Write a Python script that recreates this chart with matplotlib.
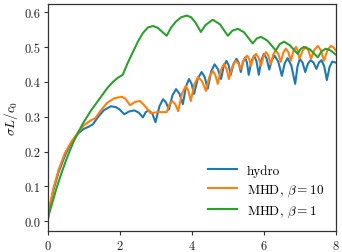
import matplotlib
matplotlib.use("Agg")
import matplotlib.pyplot as plt

plt.rcParams['font.family'] = 'serif'
plt.rcParams['font.serif'] = ['cmr10', 'DejaVu Serif']
plt.rcParams['mathtext.fontset'] = 'cm'
plt.rcParams['axes.formatter.use_mathtext'] = True
plt.rcParams['axes.unicode_minus'] = False

# hydro
x_hydro = [0.0, 0.05, 0.15, 0.3, 0.5, 0.65, 0.84, 1.0, 1.15, 1.25, 1.4, 1.55, 1.75, 1.9, 2.0,
           2.12, 2.26, 2.4, 2.52, 2.64, 2.72, 2.8, 2.9, 2.99,
           3.1, 3.2, 3.28, 3.36, 3.46, 3.56, 3.655, 3.75, 3.835, 3.92, 3.99, 4.06, 4.165,
           4.27, 4.355, 4.44, 4.535, 4.63, 4.72, 4.81, 4.885, 4.96, 5.02, 5.08, 5.16,
           5.24, 5.30, 5.36, 5.42, 5.48, 5.53, 5.58, 5.655, 5.73, 5.795, 5.86, 5.93,
           6.0, 6.075, 6.15, 6.225, 6.3, 6.4, 6.5, 6.58, 6.66, 6.765, 6.87, 6.935,
           7.0, 7.075, 7.15, 7.225, 7.3, 7.38, 7.46, 7.53, 7.6, 7.675, 7.75, 7.825,
           7.9, 8.0]
y_hydro = [0.005, 0.04, 0.088, 0.142, 0.195, 0.225, 0.252, 0.265, 0.272, 0.278, 0.3, 0.318, 0.33, 0.327, 0.32,
           0.307, 0.315, 0.318, 0.312, 0.298, 0.313, 0.318, 0.309, 0.284,
           0.330, 0.35, 0.341, 0.32, 0.361, 0.379, 0.366, 0.336, 0.386, 0.408, 0.395, 0.365, 0.409,
           0.428, 0.414, 0.38, 0.429, 0.45, 0.437, 0.408, 0.444, 0.46, 0.448, 0.42, 0.452,
           0.466, 0.455, 0.428, 0.457, 0.47, 0.455, 0.42, 0.459, 0.475, 0.459, 0.42, 0.462,
           0.48, 0.467, 0.435, 0.463, 0.475, 0.458, 0.417, 0.453, 0.468, 0.446, 0.394, 0.444,
           0.466, 0.455, 0.428, 0.452, 0.462, 0.455, 0.437, 0.455, 0.462, 0.445, 0.405, 0.442,
           0.458, 0.455]

# MHD beta=10
x_b10 = [0.0, 0.05, 0.15, 0.3, 0.47, 0.65, 0.84, 1.0, 1.2, 1.31, 1.45, 1.65, 1.85, 2.05, 2.15, 2.28, 2.42,
         2.56, 2.7, 2.85, 3.06, 3.3, 3.375, 3.45, 3.535, 3.62, 3.725, 3.83, 3.9, 3.97, 4.07,
         4.17, 4.28, 4.39, 4.485, 4.58, 4.65, 4.72, 4.805, 4.89, 4.96, 5.03, 5.125, 5.22, 5.29,
         5.36, 5.45, 5.54, 5.59, 5.64, 5.71, 5.78, 5.85, 5.92, 5.99, 6.06, 6.125, 6.19, 6.26,
         6.33, 6.4, 6.47, 6.54, 6.61, 6.68, 6.75, 6.82, 6.89, 6.94, 6.99, 7.08, 7.17, 7.24,
         7.31, 7.405, 7.5, 7.585, 7.67, 7.765, 7.86, 7.93, 8.0]
y_b10 = [0.005, 0.042, 0.093, 0.148, 0.195, 0.228, 0.255, 0.275, 0.29, 0.295, 0.315, 0.34, 0.353, 0.357, 0.352, 0.333, 0.342,
         0.345, 0.33, 0.31, 0.313, 0.313, 0.335, 0.345, 0.336, 0.316, 0.366, 0.388, 0.375, 0.345, 0.393,
         0.414, 0.402, 0.374, 0.414, 0.431, 0.42, 0.394, 0.434, 0.451, 0.438, 0.408, 0.444, 0.46, 0.453,
         0.437, 0.464, 0.475, 0.466, 0.446, 0.47, 0.48, 0.47, 0.446, 0.473, 0.485, 0.475, 0.45, 0.478,
         0.49, 0.48, 0.457, 0.484, 0.495, 0.485, 0.46, 0.488, 0.5, 0.49, 0.466, 0.49, 0.5, 0.49,
         0.466, 0.492, 0.503, 0.49, 0.46, 0.49, 0.503, 0.499, 0.49]

# MHD beta=1
x_b1 = [0.0, 0.1, 0.24, 0.4, 0.56, 0.7, 0.84, 1.0, 1.2, 1.44, 1.65, 1.81, 1.95, 2.08, 2.2, 2.36, 2.5, 2.64,
        2.78, 2.92, 3.05, 3.18, 3.3, 3.42, 3.55, 3.7, 3.86, 3.98, 4.1, 4.25, 4.38, 4.58, 4.78,
        5.0, 5.13, 5.28, 5.45, 5.69, 5.8, 5.92, 6.1, 6.33, 6.44, 6.56, 6.72, 6.94, 7.02, 7.11,
        7.28, 7.5, 7.6, 7.72, 7.85, 8.0]
y_b1 = [0.01, 0.045, 0.095, 0.145, 0.19, 0.225, 0.255, 0.285, 0.318, 0.352, 0.382, 0.40, 0.412, 0.42, 0.45, 0.485, 0.515, 0.54,
        0.556, 0.56, 0.555, 0.543, 0.532, 0.555, 0.572, 0.585, 0.59, 0.585, 0.57, 0.543, 0.563, 0.578, 0.565,
        0.532, 0.547, 0.552, 0.542, 0.51, 0.524, 0.529, 0.518, 0.49, 0.508, 0.515, 0.505, 0.48, 0.494, 0.5,
        0.493, 0.47, 0.487, 0.495, 0.49, 0.478]

fig = plt.figure(figsize=(3.42, 2.53), dpi=100)
ax = fig.add_axes([0.140, 0.083, 0.842, 0.897])
ax.plot(x_hydro, y_hydro, color='#1f77b4', lw=1.5, label='hydro')
ax.plot(x_b10, y_b10, color='#ff7f0e', lw=1.5, label=r'MHD, $\beta = 10$')
ax.plot(x_b1, y_b1, color='#2ca02c', lw=1.5, label=r'MHD, $\beta = 1$')
ax.set_xlim(0, 8)
ax.set_ylim(-0.028, 0.623)
ax.set_xticks([0, 2, 4, 6, 8])
ax.set_yticks([0.0, 0.1, 0.2, 0.3, 0.4, 0.5, 0.6])
ax.set_yticklabels(['0.0', '0.1', '0.2', '0.3', '0.4', '0.5', '0.6'])
ax.set_ylabel(r'$\sigma L/c_0$', fontsize=9.5, labelpad=3)
ax.tick_params(labelsize=9, direction='out', length=3, width=0.8, pad=2.5,
               colors='#333333', labelcolor='#222222')
for s in ax.spines.values():
    s.set_color('#333333')
    s.set_linewidth(0.9)
ax.legend(loc='lower right', frameon=False, fontsize=9.5, handlelength=2.2, handletextpad=0.75,
          labelspacing=0.45, bbox_to_anchor=(1.0, 0.0))
fig.savefig('out.png', dpi=100)
